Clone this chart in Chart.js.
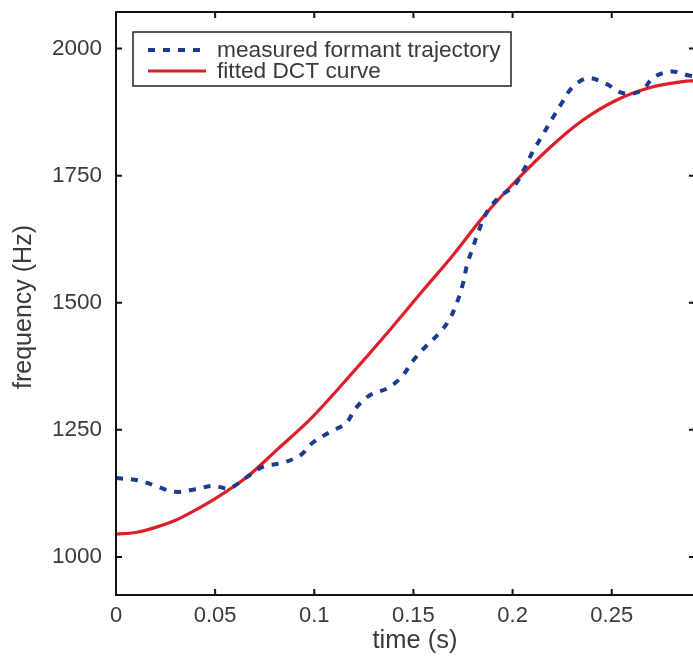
<!DOCTYPE html>
<html>
<head>
<meta charset="utf-8">
<script src="https://cdn.jsdelivr.net/npm/chart.js@4"></script>
<style>
  html, body { margin: 0; padding: 0; background: #fff; }
  #wrap { width: 693px; height: 658px; overflow: hidden; position: relative; }
  canvas { display: block; }
</style>
</head>
<body>
<div id="wrap"><canvas id="c" width="700" height="658"></canvas></div>
<script>
// ---- data ----
const measuredTime = [0, 0.012, 0.021, 0.030, 0.040, 0.049, 0.057, 0.066, 0.074, 0.084, 0.093, 0.099, 0.108, 0.116, 0.121, 0.128, 0.137, 0.144, 0.150, 0.156, 0.163, 0.168, 0.172, 0.175, 0.177, 0.180, 0.183, 0.187, 0.193, 0.201, 0.206, 0.210, 0.215, 0.220, 0.225, 0.230, 0.238, 0.247, 0.256, 0.265, 0.271, 0.280, 0.289, 0.292];
const measuredFreq = [1155, 1150, 1138, 1128, 1133, 1140, 1135, 1157, 1177, 1185, 1200, 1224, 1246, 1263, 1293, 1318, 1332, 1354, 1387, 1413, 1440, 1466, 1501, 1538, 1574, 1609, 1642, 1678, 1707, 1731, 1764, 1796, 1829, 1862, 1894, 1923, 1942, 1931, 1912, 1917, 1943, 1955, 1947, 1945];
const fittedTime = [0, 0.010, 0.020, 0.030, 0.040, 0.049, 0.066, 0.081, 0.099, 0.119, 0.138, 0.155, 0.169, 0.185, 0.202, 0.219, 0.235, 0.252, 0.269, 0.286, 0.292];
const fittedFreq = [1045, 1048, 1058, 1072, 1092, 1112, 1157, 1210, 1275, 1361, 1446, 1525, 1589, 1668, 1741, 1806, 1858, 1898, 1923, 1935, 1937];
const seriesNames = ['measured formant trajectory', 'fitted DCT curve'];
const xTicks = [0, 0.05, 0.1, 0.15, 0.2, 0.25];
const xTickLabels = ['0', '0.05', '0.1', '0.15', '0.2', '0.25'];
const yTicks = [1000, 1250, 1500, 1750, 2000];
const yTickLabels = ['1000', '1250', '1500', '1750', '2000'];
const xTitle = 'time (s)';
const yTitle = 'frequency (Hz)';

const BLUE = '#1d3b8e';
const RED = '#de1f2a';
const TXT = '#3a3a3a';
const FONT = '"Liberation Sans", Arial, sans-serif';

const toPts = (xs, ys) => xs.map((x, i) => ({ x: x, y: ys[i] }));

const frame = {
  id: 'frame',
  afterDraw(chart) {
    const ctx = chart.ctx;
    const a = chart.chartArea;
    const xs = chart.scales.x, ys = chart.scales.y;
    ctx.save();
    ctx.strokeStyle = '#111';
    ctx.lineWidth = 2;
    ctx.strokeRect(a.left, a.top, a.right - a.left, a.bottom - a.top);
    const tl = 6;
    ctx.beginPath();
    xTicks.forEach(v => {
      const px = xs.getPixelForValue(v);
      ctx.moveTo(px, a.bottom); ctx.lineTo(px, a.bottom - tl);
      ctx.moveTo(px, a.top); ctx.lineTo(px, a.top + tl);
    });
    yTicks.forEach(v => {
      const py = ys.getPixelForValue(v);
      ctx.moveTo(a.left, py); ctx.lineTo(a.left + tl, py);
      ctx.moveTo(a.right, py); ctx.lineTo(a.right - tl, py);
    });
    ctx.stroke();

    // axis titles
    ctx.fillStyle = TXT;
    ctx.font = '25.5px ' + FONT;
    ctx.textAlign = 'center';
    ctx.textBaseline = 'middle';
    ctx.fillText(xTitle, 415, 641);
    ctx.font = '25px ' + FONT;
    ctx.save();
    ctx.translate(24, 307);
    ctx.rotate(-Math.PI / 2);
    ctx.fillText(yTitle, 0, 0);
    ctx.restore();

    // legend
    const lx = 133, ly = 32, lw = 378, lh = 54;
    ctx.fillStyle = '#fff';
    ctx.fillRect(lx, ly, lw, lh);
    ctx.strokeStyle = '#222';
    ctx.lineWidth = 1.5;
    ctx.strokeRect(lx, ly, lw, lh);
    const rows = [50, 71];
    chart.data.datasets.forEach((ds, i) => {
      ctx.save();
      ctx.strokeStyle = ds.borderColor;
      ctx.lineWidth = ds.borderWidth;
      ctx.lineCap = ds.borderCapStyle || 'butt';
      ctx.setLineDash(ds.borderDash || []);
      ctx.beginPath();
      ctx.moveTo(148, rows[i]);
      ctx.lineTo(206, rows[i]);
      ctx.stroke();
      ctx.restore();
      ctx.fillStyle = TXT;
      ctx.font = '22.7px ' + FONT;
      ctx.textAlign = 'left';
      ctx.textBaseline = 'middle';
      ctx.fillText(ds.label, 217, rows[i] + 1);
    });
    ctx.restore();
  }
};

new Chart(document.getElementById('c'), {
  type: 'line',
  data: {
    datasets: [
      {
        label: seriesNames[0],
        data: toPts(measuredTime, measuredFreq),
        borderColor: BLUE,
        borderWidth: 4,
        borderDash: [7, 8],
        borderCapStyle: 'butt',
        pointRadius: 0,
        tension: 0.35,
        fill: false
      },
      {
        label: seriesNames[1],
        data: toPts(fittedTime, fittedFreq),
        borderColor: RED,
        borderWidth: 3.2,
        pointRadius: 0,
        cubicInterpolationMode: 'monotone',
        fill: false
      }
    ]
  },
  options: {
    responsive: false,
    animation: false,
    events: [],
    layout: { padding: { left: 0, top: 12, right: 5, bottom: 0 } },
    plugins: { legend: { display: false }, tooltip: { enabled: false } },
    scales: {
      x: {
        type: 'linear',
        min: 0,
        max: 0.292,
        grid: { display: false, drawTicks: false },
        border: { display: false },
        afterBuildTicks: s => { s.ticks = xTicks.map(v => ({ value: v })); },
        afterFit: s => { s.height = 63; s.paddingLeft = 0; s.paddingRight = 0; },
        ticks: {
          color: TXT,
          font: { family: FONT, size: 22 },
          padding: 8,
          maxRotation: 0,
          autoSkip: false,
          callback: (v) => xTickLabels[xTicks.indexOf(v)] ?? ''
        }
      },
      y: {
        type: 'linear',
        min: 925,
        max: 2072,
        grid: { display: false, drawTicks: false },
        border: { display: false },
        afterBuildTicks: s => { s.ticks = yTicks.map(v => ({ value: v })); },
        afterFit: s => { s.width = 116; s.paddingTop = 0; s.paddingBottom = 0; },
        ticks: {
          color: TXT,
          font: { family: FONT, size: 22.5 },
          padding: 14,
          autoSkip: false,
          callback: (v) => yTickLabels[yTicks.indexOf(v)] ?? ''
        }
      }
    }
  },
  plugins: [frame]
});
</script>
</body>
</html>
